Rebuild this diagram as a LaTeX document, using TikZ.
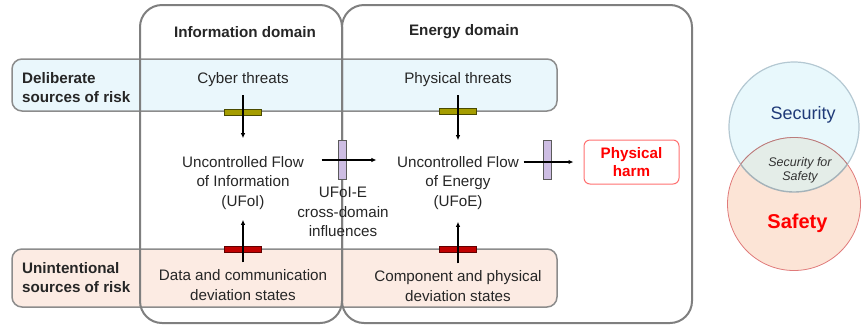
\documentclass[tikz,border=0pt]{standalone}
\usepackage{fontspec}
\setmainfont{Liberation Sans}
\usetikzlibrary{arrows.meta}

\definecolor{framegray}{HTML}{7F7F7F}
\definecolor{bandline}{HTML}{8C8C8C}
\definecolor{bluefill}{HTML}{EAF7FC}
\definecolor{peachfill}{HTML}{FCEBE3}
\definecolor{olivebar}{HTML}{A59D00}
\definecolor{olivedark}{HTML}{4A4A00}
\definecolor{redbar}{HTML}{C00000}
\definecolor{reddark}{HTML}{600000}
\definecolor{purplebar}{HTML}{CDBDE3}
\definecolor{purpledark}{HTML}{5A5A5A}
\definecolor{harmred}{HTML}{FF0000}
\definecolor{harmline}{HTML}{FF7070}
\definecolor{secfill}{HTML}{E8F8FC}
\definecolor{secline}{HTML}{B4C8D2}
\definecolor{saffill}{HTML}{FCE4D6}
\definecolor{safline}{HTML}{E07A7A}
\definecolor{lensfill}{HTML}{E4EDE8}
\definecolor{secblue}{HTML}{1F3A78}

\begin{document}
\begin{tikzpicture}[x=1pt, y=-1pt,
  txt/.style={font=\fontsize{15.2}{19.5}\selectfont, align=center, inner sep=0pt, text=black!85},
  boldtxt/.style={txt, font=\fontsize{15.2}{19}\selectfont\bfseries},
  riskband/.style={draw=bandline, line width=1.5pt, rounded corners=10pt, inner sep=0pt},
  domainbox/.style={draw=framegray, line width=2pt, rounded corners=22pt, inner sep=0pt},
  hbar/.style={minimum width=37pt, minimum height=6pt, inner sep=0pt, line width=0.9pt},
  vbar/.style={minimum width=8pt, minimum height=39pt, inner sep=0pt, line width=0.9pt,
               fill=purplebar, draw=purpledark},
  arr/.style={line width=1.2pt, -{Latex[length=5pt,width=4.5pt]}},
]
\useasboundingbox (0,0) rectangle (861,325);

% risk-source bands
\node[riskband, fill=bluefill, minimum width=545pt, minimum height=52pt] (delib) at (284.5,85) {};
\node[riskband, fill=peachfill, minimum width=545pt, minimum height=58pt] (unint) at (284.5,278) {};

% domain frames
\node[domainbox, minimum width=202pt, minimum height=318pt] (infodom) at (241,164) {};
\node[domainbox, minimum width=350pt, minimum height=318pt] (energydom) at (517,164) {};

% headings
\node[boldtxt] (infohead) at (245,32) {Information domain};
\node[boldtxt] (energyhead) at (464,32) {Energy domain};
\node[boldtxt, anchor=west, align=left] (delibl) at (22,87.5) {Deliberate\\sources of risk};
\node[boldtxt, anchor=west, align=left] (unintl) at (22,278) {Unintentional\\sources of risk};

% sources and flows
\node[txt] (cyber) at (243,80) {Cyber threats};
\node[txt] (phys) at (458,80) {Physical threats};
\node[txt] (ufoi) at (243,183) {Uncontrolled Flow\\of Information\\(UFoI)};
\node[txt] (ufoe) at (458,183) {Uncontrolled Flow\\of Energy\\(UFoE)};
\node[txt] (datadev) at (243,285) {Data and communication\\deviation states};
\node[txt] (compdev) at (458,286) {Component and physical\\deviation states};
\node[txt] (cross) at (343,212) {UFoI-E\\cross-domain\\influences};

\node[draw=harmline, line width=1pt, rounded corners=6pt, minimum width=95pt, minimum height=44pt,
      inner sep=0pt, font=\fontsize{15.2}{18}\selectfont\bfseries, text=harmred, align=center]
      (harm) at (631.5,162) {Physical\\harm};

% barriers
\node[hbar, fill=olivebar, draw=olivedark] (bar1) at (242.5,112) {};
\node[hbar, fill=olivebar, draw=olivedark] (bar2) at (457.5,111) {};
\node[hbar, fill=redbar, draw=reddark] (bar3) at (242.5,249.5) {};
\node[hbar, fill=redbar, draw=reddark] (bar4) at (457.5,249.5) {};
\node[vbar] (bar5) at (342.5,159.5) {};
\node[vbar] (bar6) at (547,159.5) {};

% flows
\draw[arr, shorten <=8pt, shorten >=18pt] (cyber) -- (ufoi);
\draw[arr, shorten <=8pt, shorten >=16pt] (phys) -- (ufoe);
\draw[arr, shorten <=7pt, shorten >=10pt] (datadev) -- (ufoi);
\draw[arr, shorten <=7pt, shorten >=12pt] (compdev) -- (ufoe);
\draw[arr, shorten <=17.5pt, shorten >=20.5pt] ([yshift=23pt]ufoi.east) -- ([yshift=23pt]ufoe.west);
\draw[arr, shorten <=4.5pt, shorten >=10pt] (ufoe.east |- harm.west) -- (harm.west);

% security / safety overlap
\node[circle, fill=secfill, draw=secline, line width=1.2pt, minimum size=130pt, inner sep=0pt] (sec) at (794,127) {};
\node[circle, fill=saffill, draw=safline, line width=0.8pt, minimum size=133pt, inner sep=0pt] (saf) at (794,204) {};
\begin{scope}
  \clip (794,127) circle (65pt);
  \fill[lensfill] (794,204) circle (66.5pt);
  \draw[safline!60!gray, line width=0.8pt] (794,204) circle (66.5pt);
\end{scope}
\begin{scope}
  \clip (794,204) circle (66.5pt);
  \draw[secline!70!gray, line width=1.4pt] (794,127) circle (65pt);
\end{scope}
\node[txt, font=\fontsize{18}{20}\selectfont, text=secblue] (seclbl) at (803,115) {Security};
\node[txt, font=\fontsize{12.5}{14}\selectfont\itshape, text=black!80] (s4s) at (800,170) {Security for\\Safety};
\node[txt, font=\fontsize{20}{22}\selectfont\bfseries, text=harmred] (saflbl) at (797.5,223) {Safety};
\end{tikzpicture}
\end{document}
